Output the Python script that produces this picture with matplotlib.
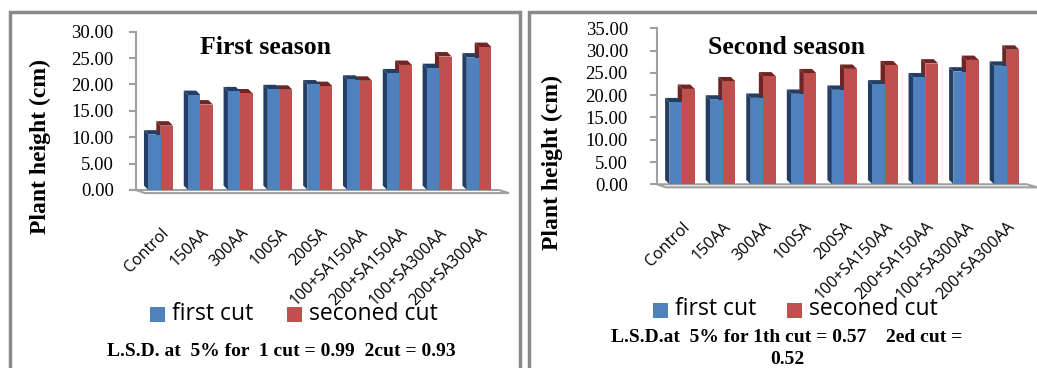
import matplotlib
matplotlib.use('Agg')
import matplotlib.pyplot as plt
from matplotlib.patches import Polygon, Rectangle

# data
treatments = ['Control', '150AA', '300AA', '100SA', '200SA', '100+SA150AA',
              '200+SA150AA', '100+SA300AA', '200+SA300AA']
s1_first = [10.5, 18.0, 18.7, 19.1, 20.0, 20.9, 22.1, 23.1, 25.1]
s1_second = [12.2, 16.2, 18.3, 19.0, 19.7, 20.7, 23.7, 25.3, 27.1]
s2_first = [18.4, 19.0, 19.4, 20.3, 21.2, 22.4, 24.0, 25.3, 26.6]
s2_second = [21.4, 23.1, 24.2, 24.9, 25.9, 26.7, 27.1, 27.9, 30.2]
series_names = ['first cut', 'seconed cut']

BLUE, BLUE_D = '#4F81BD', '#233E64'
RED, RED_D = '#C0504D', '#6E2524'
W, H = 1037, 368

fig = plt.figure(figsize=(W / 100, H / 100), dpi=100)


def px(x0, y0, x1, y1):
    return [x0 / W, 1 - y1 / H, (x1 - x0) / W, (y1 - y0) / H]


def bars3d(ax, vals1, vals2, ymax):
    bw = 0.31
    dx = 0.11
    dy = ymax * 0.028
    for vals, off, col, dark in [(vals2, 0, RED, RED_D), (vals1, -bw, BLUE, BLUE_D)]:
        for i, v in enumerate(vals):
            x0 = i + off
            side = Polygon([(x0, 0), (x0, v), (x0 - dx, v + dy), (x0 - dx, dy)],
                           closed=True, fc=dark, ec='none', zorder=3)
            top = Polygon([(x0, v), (x0 + bw, v), (x0 + bw - dx, v + dy), (x0 - dx, v + dy)],
                          closed=True, fc=dark, ec='none', zorder=3)
            ax.add_patch(side)
            ax.add_patch(top)
            ax.add_patch(Rectangle((x0, 0), bw, v, fc=col, ec='none', zorder=4))
    # floor
    fl = Polygon([(-0.62, 0), (8.5, 0), (8.75, -dy * 0.7), (-0.4, -dy * 0.7)],
                 closed=True, fc='white', ec='#A0A0A0', lw=1.5, zorder=2, clip_on=False)
    ax.add_patch(fl)


def panel(rect, v1, v2, ymax, ypad, label_xy):
    ax = fig.add_axes(rect)
    bars3d(ax, v1, v2, ymax)
    ax.set_xlim(-0.62, 8.5)
    ax.set_ylim(0, ymax)
    ax.set_yticks(range(0, ymax + 1, 5))
    ax.set_yticklabels(['%.2f' % t for t in range(0, ymax + 1, 5)],
                       family='Liberation Serif', fontsize=13.5)
    ax.set_xticks(range(len(treatments)))
    ax.set_xticklabels(treatments, rotation=45, ha='right', rotation_mode='anchor',
                       family='Open Sans', fontsize=11.5)
    ax.tick_params(axis='x', length=0, pad=25)
    ax.tick_params(axis='y', length=5, color='#A0A0A0', width=1.5, pad=ypad)
    for s in ['top', 'right', 'bottom']:
        ax.spines[s].set_visible(False)
    ax.spines['left'].set_color('#A0A0A0')
    ax.spines['left'].set_linewidth(1.5)
    ax.set_ylabel('Plant height (cm)', family='Liberation Serif', fontweight='bold',
                  fontsize=17)
    ax.yaxis.set_label_coords(label_xy[0] / W, 1 - label_xy[1] / H,
                              transform=fig.transFigure)
    return ax


ax1 = panel(px(136, 31.7, 499, 190), s1_first, s1_second, 30, 11, (51, 147))
ax2 = panel(px(657, 28.3, 1027, 184.3), s2_first, s2_second, 35, 16, (563, 162))

fig.text(200 / W, 1 - 48 / H, 'First season', family='Liberation Serif',
         fontweight='bold', fontsize=18.5, ha='left', va='center')
fig.text(708 / W, 1 - 48 / H, 'Second season', family='Liberation Serif',
         fontweight='bold', fontsize=18.5, ha='left', va='center')

# legends
for lx, ly, gap in [(150, 314.5, 137), (653, 310, 134)]:
    for i, (name, col) in enumerate(zip(series_names, [BLUE, RED])):
        x = lx + i * gap
        fig.patches.append(Rectangle((x / W, 1 - (ly + 7.5) / H), 15 / W, 15 / H,
                                     fc=col, ec='none', transform=fig.transFigure))
        fig.text((x + 22) / W, 1 - (ly - 1) / H, name, family='Open Sans', fontsize=16.5,
                 ha='left', va='center')

fig.text(281 / W, 1 - 352 / H, 'L.S.D. at  5% for  1 cut = 0.99  2cut = 0.93',
         family='Liberation Serif', fontweight='bold', fontsize=14, ha='center', va='center')
fig.text(787 / W, 1 - 338 / H, 'L.S.D.at  5% for 1th cut = 0.57    2ed cut =',
         family='Liberation Serif', fontweight='bold', fontsize=14, ha='center', va='center')
fig.text(787 / W, 1 - 359 / H, '0.52',
         family='Liberation Serif', fontweight='bold', fontsize=14, ha='center', va='center')

# panel frames
for x0, x1 in [(10, 520), (529, 1045)]:
    fig.patches.append(Rectangle((x0 / W, -0.1), (x1 - x0) / W, 1.1 - 12 / H,
                                 fc='none', ec='#8A8A8A', lw=2.5, transform=fig.transFigure))

fig.savefig('out.png', dpi=100)
